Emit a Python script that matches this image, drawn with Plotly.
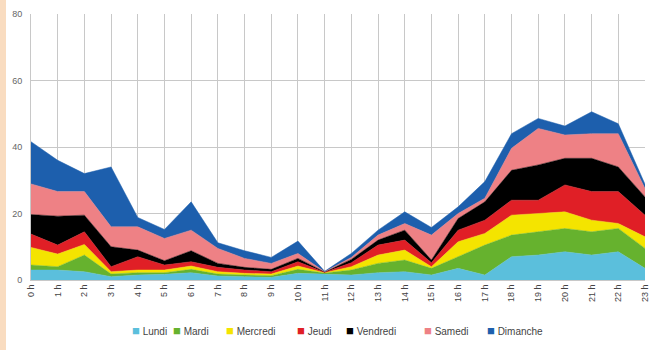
import plotly.graph_objects as go

hours = [f"{h} h" for h in range(24)]
lundi = [3, 3, 2.5, 1, 1.5, 1.7, 2.2, 1.2, 1, 0.8, 2, 1.8, 1.5, 2.2, 2.5, 1.5, 3.5, 1.5, 7, 7.5, 8.5, 7.5, 8.5, 3.5]
mardi = [1.5, 1, 5, 0.8, 0.7, 0.5, 1, 0.6, 0.5, 0.5, 1.2, 0.3, 1.5, 2.8, 3.5, 2, 3.5, 9, 6.5, 7, 7, 7, 7, 6]
mercredi = [5.3, 3.8, 3.2, 0.7, 0.8, 0.8, 1, 0.7, 0.5, 0.5, 1, 0.1, 1, 2.5, 3, 0.5, 4.5, 3.5, 6, 5.5, 5, 3.5, 1.5, 3.5]
jeudi = [4, 2.7, 3.8, 1.5, 4, 1.5, 1.3, 1.3, 1, 0.7, 1.3, 0.1, 1.2, 3, 3, 1.2, 3.5, 4, 4.5, 4, 8.1, 8.6, 9.6, 6.5]
vendredi = [5.9, 8.7, 5, 6, 2, 1.3, 3.3, 1.2, 0.8, 0.7, 1, 0.1, 1, 1.5, 3, 0.8, 3.5, 5.5, 9, 10.6, 8, 10, 7.4, 5.5]
samedi = [9.2, 7.4, 7.1, 6, 7, 6.7, 6.2, 4.5, 2.7, 1.8, 1.5, 0.1, 0.6, 1.5, 2, 7.5, 1.5, 1.1, 6.6, 11, 7, 7.4, 10, 2.5]
dimanche = [12.7, 9.4, 5.4, 18, 2.8, 2.7, 8.5, 1.7, 2.3, 1.8, 3.7, 0.1, 1.2, 1.5, 3.5, 2.3, 2, 5, 4.4, 3, 2.7, 6.6, 3, 1.3]

names = ["Lundi", "Mardi", "Mercredi", "Jeudi", "Vendredi", "Samedi", "Dimanche"]
values = [lundi, mardi, mercredi, jeudi, vendredi, samedi, dimanche]
colors = ["#5bbfdc", "#66b22e", "#f4e400", "#e01f26", "#000000", "#ee8185", "#1d5fad"]
y_ticks = [0, 20, 40, 60, 80]

W, H = 651, 350
ML, MR, MT, MB = 31, 6, 14, 70
PW, PH = W - ML - MR, H - MT - MB

fig = go.Figure()
for name, vals, col in zip(names, values, colors):
    fig.add_trace(go.Scatter(
        x=hours, y=vals, name=name, mode="lines", stackgroup="one",
        line=dict(color=col, width=0.5), fillcolor=col, showlegend=False,
    ))

# legend drawn as text entries below the plot
legend_px = [130, 171, 224, 295, 344, 422, 485]
annotations = []
for name, col, px in zip(names, colors, legend_px):
    annotations.append(dict(
        xref="paper", yref="paper", x=(px - ML) / PW, y=-(330 - (H - MB)) / PH,
        xanchor="left", yanchor="middle", showarrow=False,
        text=f'<span style="color:{col};font-size:13px">■</span> {name}',
        font=dict(size=10, color="#444444", family="Arial, Liberation Sans, DejaVu Sans, sans-serif"),
    ))

fig.update_layout(
    width=W, height=H,
    margin=dict(l=ML, r=MR, t=MT, b=MB, autoexpand=False),
    paper_bgcolor="white", plot_bgcolor="white",
    font=dict(family="Arial, Liberation Sans, sans-serif", size=9, color="#555555"),
    showlegend=False,
    annotations=annotations,
    shapes=[dict(type="rect", xref="paper", yref="paper", x0=-ML / PW, x1=-(ML - 6) / PW,
                 y0=-MB / PH, y1=1 + MT / PH, fillcolor="#f9dcc0", line=dict(width=0), layer="below")],
)
fig.update_xaxes(type="category", range=[0, 23], tickangle=-90, showgrid=True,
                 gridcolor="#c8c8c8", gridwidth=1, showline=True, linecolor="#c8c8c8",
                 ticks="", ticklabeloverflow="allow",
                 tickvals=hours, ticktext=hours,
                 tickfont=dict(size=9, color="#444444"))
fig.update_yaxes(range=[0, 80], tickvals=y_ticks, showgrid=True, gridcolor="#c8c8c8",
                 gridwidth=1, showline=True, linecolor="#c8c8c8", zeroline=False,
                 ticks="", ticklabelstandoff=6, tickfont=dict(size=9, color="#666666"))

fig.write_html("out.html", config={"displayModeBar": False},
               post_script="document.body.style.margin='0';document.body.style.overflow='hidden';")
